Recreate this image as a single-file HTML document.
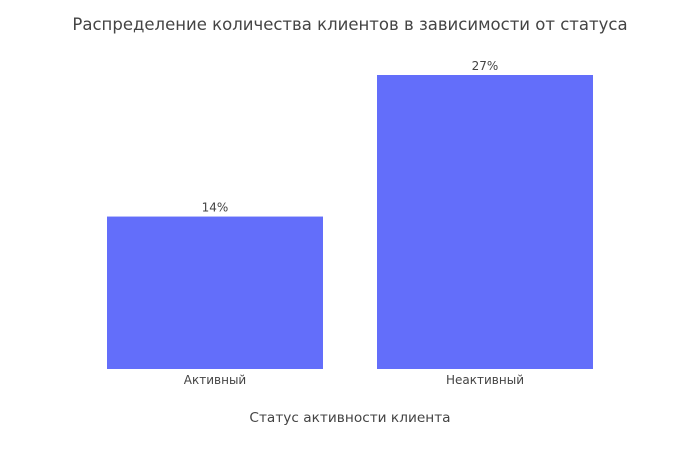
<!DOCTYPE html>
<html><head><meta charset="utf-8"><style>
body{margin:0;background:#fff;}
svg{display:block;font-family:"DejaVu Sans","Liberation Sans",sans-serif;}
</style></head><body>
<svg id="chart" width="700" height="450">
<text x="350" y="30" text-anchor="middle" font-size="16.5" fill="#444">Распределение количества клиентов в зависимости от статуса</text>
<g id="bars"></g>
<text x="350" y="422" text-anchor="middle" font-size="13.7" fill="#444">Статус активности клиента</text>
</svg>
<script>
const categories = ["Активный", "Неактивный"];
const values = [14, 27];
const labels = ["14%", "27%"];
const plotLeft = 80, plotWidth = 540, baseY = 369, pxPerUnit = (369 - 75) / 27;
const band = plotWidth / categories.length;
const xCenter = i => plotLeft + band * (i + 0.5);
const yPos = v => baseY - v * pxPerUnit;
const g = document.getElementById('bars');
const ns = 'http://www.w3.org/2000/svg';
categories.forEach((c, i) => {
  const w = band * 0.8;
  const r = document.createElementNS(ns, 'rect');
  r.setAttribute('x', xCenter(i) - w / 2);
  r.setAttribute('y', yPos(values[i]));
  r.setAttribute('width', w);
  r.setAttribute('height', baseY - yPos(values[i]));
  r.setAttribute('fill', '#636efa');
  
  
  g.appendChild(r);
  const t = document.createElementNS(ns, 'text');
  t.setAttribute('x', xCenter(i));
  t.setAttribute('y', yPos(values[i]) - 5);
  t.setAttribute('text-anchor', 'middle');
  t.setAttribute('font-size', '12');
  t.setAttribute('fill', '#444');
  t.textContent = labels[i];
  
  
  g.appendChild(t);
  const tk = document.createElementNS(ns, 'text');
  tk.setAttribute('x', xCenter(i));
  tk.setAttribute('y', 384);
  tk.setAttribute('text-anchor', 'middle');
  tk.setAttribute('font-size', '12');
  tk.setAttribute('fill', '#444');
  tk.textContent = c;
  
  
  g.appendChild(tk);
});
</script>
</body></html>
